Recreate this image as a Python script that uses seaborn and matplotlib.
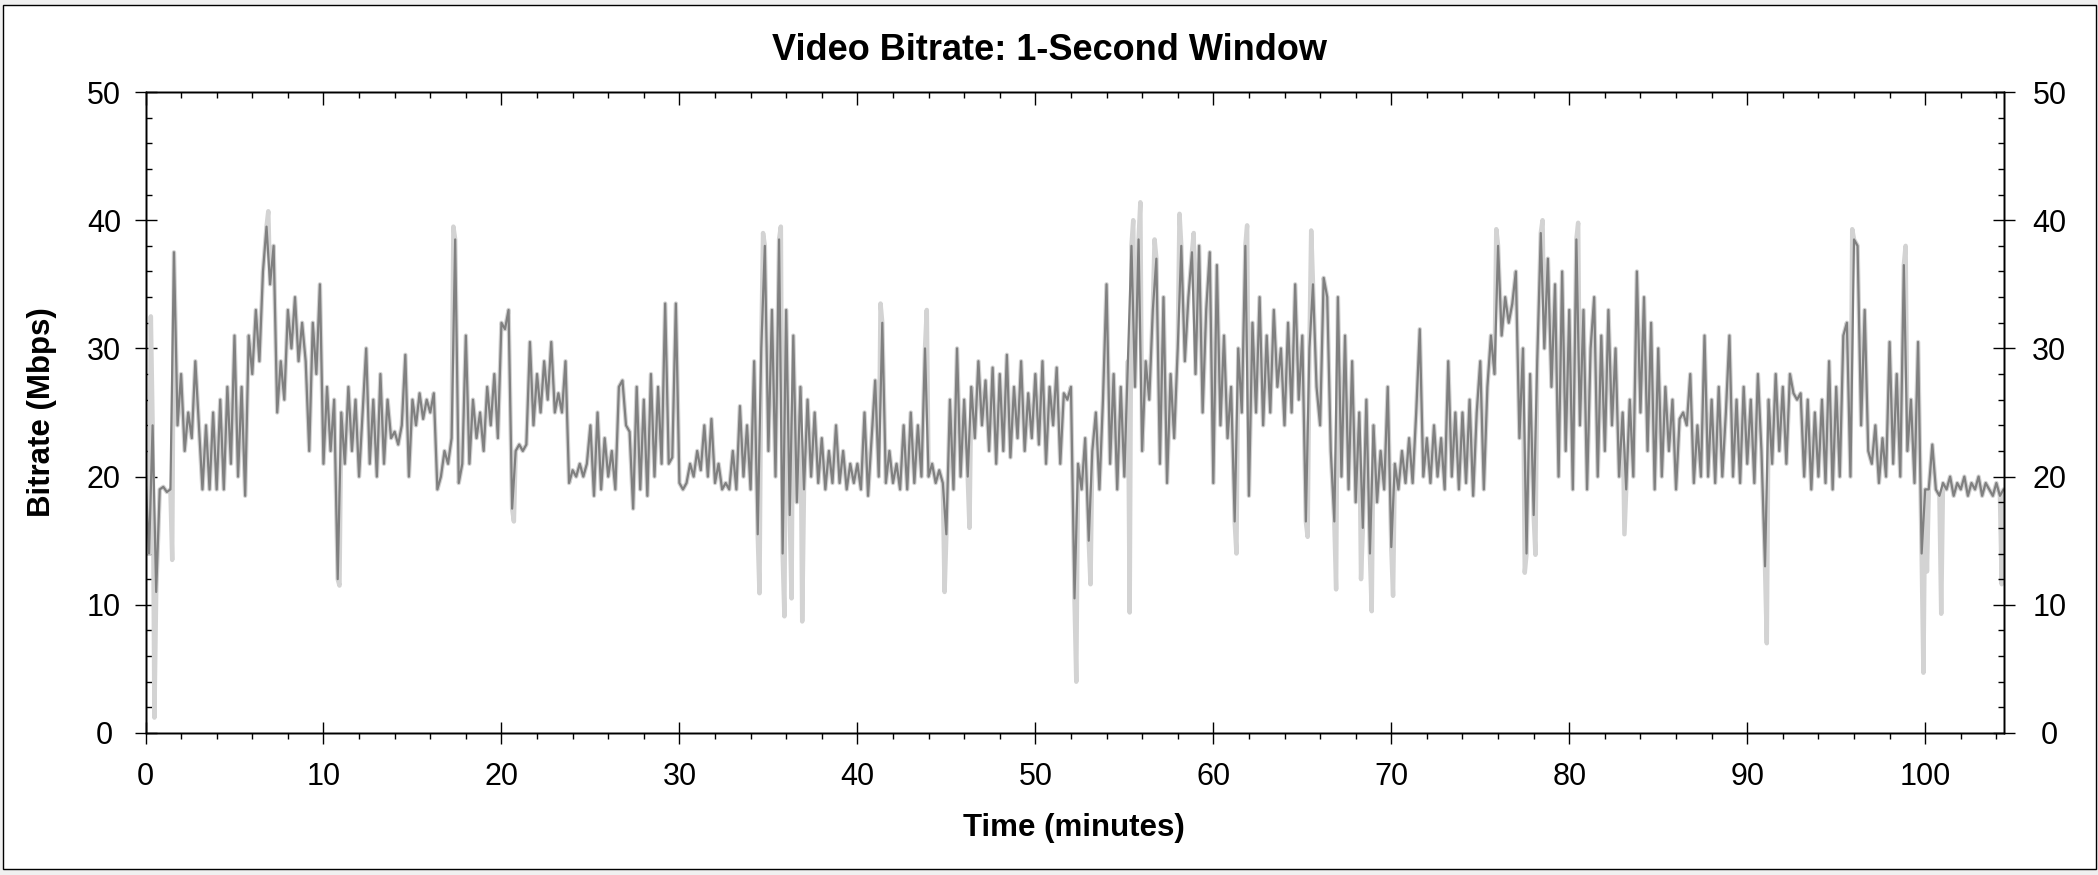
import numpy as np
import pandas as pd
import matplotlib
matplotlib.use("Agg")
import matplotlib.pyplot as plt
import matplotlib.patches as mpatches
from matplotlib.ticker import MultipleLocator
import seaborn as sns

sns.set_style("white")
plt.rcParams["font.family"] = ["Liberation Sans", "DejaVu Sans"]
plt.rcParams["text.color"] = "black"
plt.rcParams["xtick.color"] = "black"
plt.rcParams["ytick.color"] = "black"
plt.rcParams["axes.labelcolor"] = "black"

# bitrate, one value every 0.2 minutes (Mbps)
sample_step = 0.2
bitrate = [
    20, 14, 24, 11, 19, 19.2, 18.8, 19, 37.5, 24,             # 0-2
    28, 22, 25, 23, 29, 24, 19, 24, 19, 25,                   # 2-4
    19, 26, 19, 27, 21, 31, 20, 27, 18.5, 31,                 # 4-6
    28, 33, 29, 36, 39.5, 35, 38, 25, 29, 26,                 # 6-8
    33, 30, 34, 29, 32, 29, 22, 32, 28, 35,                   # 8-10
    21, 27, 22, 26, 12, 25, 21, 27, 22, 26,                   # 10-12
    20, 25, 30, 21, 26, 20, 28, 21, 26, 23,                   # 12-14
    23.5, 22.5, 24, 29.5, 20, 26, 24, 26.5, 24.5, 26,         # 14-16
    25, 26.5, 19, 20, 22, 21, 23, 38.5, 19.5, 21,             # 16-18
    31, 21, 26, 23, 25, 22, 27, 24, 28, 23,                   # 18-20
    32, 31.5, 33, 17.5, 22, 22.5, 22, 22.5, 30.5, 24,         # 20-22
    28, 25, 29, 26, 30.5, 25, 26.5, 25, 29, 19.5,             # 22-24
    20.5, 20, 21, 20, 21, 24, 18.5, 25, 19, 23,               # 24-26
    20, 22, 19, 27, 27.5, 24, 23.5, 17.5, 27, 19,             # 26-28
    26, 18.5, 28, 20, 27, 21, 33.5, 21, 21.5, 33.5,           # 28-30
    19.5, 19, 19.5, 21, 20, 22, 20.5, 24, 20, 24.5,           # 30-32
    19.5, 21, 19, 19.5, 19, 22, 19, 25.5, 20, 24,             # 32-34
    19, 29, 15.5, 30, 38, 22, 33, 20, 38.5, 14,               # 34-36
    33, 17, 31, 18, 27, 19, 26, 20, 25, 19.5,                 # 36-38
    23, 19, 22, 19.5, 24, 19.5, 22, 19, 21, 19.5,             # 38-40
    21, 19, 25, 18.5, 23, 27.5, 20, 32, 19.5, 22,             # 40-42
    19.5, 21, 19, 24, 19, 25, 19.5, 24, 20, 30,               # 42-44
    20, 21, 19.5, 20.5, 19.5, 15.5, 26, 19, 30, 20,           # 44-46
    26, 20, 27, 23, 29, 24, 27.5, 22, 28.5, 21,               # 46-48
    28, 22, 29.5, 21.5, 27, 23, 29, 22, 26.5, 23,             # 48-50
    28, 22.5, 29, 21, 27, 24, 28.5, 21, 26.5, 26,             # 50-52
    27, 10.5, 21, 19, 23, 15, 22, 25, 19, 26,                 # 52-54
    35, 21, 28, 19, 27, 20, 29, 38, 27, 38.5,                 # 54-56
    22, 29, 26, 33, 37, 21, 34, 19.5, 28, 23,                 # 56-58
    30, 38, 29, 34, 37.5, 28, 38, 25, 33, 37.5,               # 58-60
    19.5, 36.5, 24, 31, 23, 27, 16.5, 30, 25, 38,             # 60-62
    18.5, 32, 25, 34, 24, 31, 25, 33, 27, 30,                 # 62-64
    24, 32, 25, 35, 26, 31, 16.5, 30, 35, 27,                 # 64-66
    24, 35.5, 34, 22, 16.5, 34, 20, 31, 19, 29,               # 66-68
    18, 25, 16, 26, 14, 24, 18, 22, 19, 27,                   # 68-70
    14.5, 21, 19, 22, 19.5, 23, 19.5, 25, 31.5, 20,           # 70-72
    23, 19.5, 24, 20, 23, 19, 29, 20, 25, 19,                 # 72-74
    25, 19.5, 26, 18.5, 25, 29, 19, 27, 31, 28,               # 74-76
    38, 31, 34, 32, 33.5, 36, 23, 30, 14, 28,                 # 76-78
    17, 29, 39, 30, 37, 27, 35, 20, 36, 22,                   # 78-80
    33, 19, 38.5, 24, 33, 19, 30, 34, 20, 31,                 # 80-82
    22, 33, 24, 30, 20, 25, 19, 26, 20, 36,                   # 82-84
    25, 34, 22, 32, 19, 30, 20, 27, 22, 26,                   # 84-86
    19, 24.5, 25, 24, 28, 19.5, 24, 20, 31, 20,               # 86-88
    26, 19.5, 27, 20, 25, 31, 20, 26, 19.5, 27,               # 88-90
    21, 26, 19.5, 28, 22, 13, 26, 21, 28, 22,                 # 90-92
    27, 21, 28, 26.5, 26, 26.5, 20, 26, 19, 25,               # 92-94
    20, 26, 19.5, 29, 19, 27, 20, 31, 32, 20,                 # 94-96
    38.5, 38, 24, 33, 22, 21, 24, 19.5, 23, 20,               # 96-98
    30.5, 21, 28, 20, 36.5, 22, 26, 19.5, 30.5, 14,           # 98-100
    19, 19, 22.5, 19, 18.5, 19.5, 19, 20, 18.5, 19.5,         # 100-102
    19, 20, 18.5, 19.5, 19, 20, 18.5, 19.5, 19, 18.5,         # 102-104
    19.5, 18.5, 19,                                           # 104-104.4
]

# short excursions only visible in the light trace
spike_times = [0.3, 0.5, 1.5, 6.9, 10.9, 17.3, 20.7, 34.5, 34.7, 35.7,
               35.9, 36.3, 36.9, 41.3, 43.9, 44.9, 46.3, 52.3, 53.1, 55.3,
               55.5, 55.9, 56.7, 58.1, 58.9, 61.3, 61.9, 65.3, 65.5, 66.9,
               68.3, 68.9, 70.1, 75.9, 77.5, 78.1, 78.5, 80.5, 83.1, 91.1,
               95.9, 98.9, 99.9, 100.1, 100.9, 104.3]
spike_values = [32.5, 1.2, 13.5, 40.7, 11.5, 39.5, 16.5, 10.9, 39.0, 39.5,
                9.1, 10.5, 8.7, 33.5, 33.0, 11.0, 16.0, 4.0, 11.6, 9.4,
                40.0, 41.4, 38.5, 40.5, 39.0, 14.0, 39.6, 15.3, 39.2, 11.2,
                12.0, 9.5, 10.7, 39.3, 12.5, 13.9, 40.0, 39.8, 15.5, 7.0,
                39.3, 38.0, 4.7, 12.6, 9.3, 11.6]

x_ticks = [0, 10, 20, 30, 40, 50, 60, 70, 80, 90, 100]
y_ticks = [0, 10, 20, 30, 40, 50]

times = np.round(np.arange(len(bitrate)) * sample_step, 2)
dark = pd.DataFrame({"time": times, "rate": bitrate})
light = pd.concat([dark, pd.DataFrame({"time": spike_times, "rate": spike_values})])
light = light.sort_values("time").reset_index(drop=True)

W, H = 2098, 875
fig = plt.figure(figsize=(W / 100, H / 100), dpi=100, facecolor="#f0f0f0")
fig.add_artist(mpatches.Rectangle((3 / W, 1 - 869 / H), 2093 / W, 864 / H,
                                  transform=fig.transFigure, facecolor="white",
                                  edgecolor="black", lw=1.0, zorder=-1))

ax = fig.add_axes([145.5 / W, 1 - 733 / H, 1858 / W, 641 / H])
sns.lineplot(data=light, x="time", y="rate", color="#d3d3d3", lw=3.2,
             estimator=None, ax=ax)
sns.lineplot(data=dark, x="time", y="rate", color="#808080", lw=1.6,
             estimator=None, ax=ax)
ax.set_xlim(0, 104.4)
ax.set_ylim(0, 50)
ax.set_xlabel("")
ax.set_ylabel("")
ax.set_xticks(x_ticks)
ax.set_yticks(y_ticks)
ax.xaxis.set_minor_locator(MultipleLocator(2))
ax.yaxis.set_minor_locator(MultipleLocator(2))

tick_font = 22
ax.tick_params(axis="x", which="major", direction="inout", length=16, width=1,
               color="black", bottom=True, top=False, labelsize=tick_font, pad=13)
ax.tick_params(axis="x", which="minor", direction="out", length=4.5, width=1,
               color="black", bottom=True, top=False)
ax.tick_params(axis="y", which="major", direction="inout", length=16, width=1,
               color="black", left=True, right=False, labelsize=tick_font, pad=22)
ax.tick_params(axis="y", which="minor", direction="in", length=4.5, width=1,
               color="black", left=True, right=False)
plt.setp(ax.get_yticklabels(), ha="center")

# top ticks
axt = ax.twiny()
axt.set_xlim(ax.get_xlim())
axt.set_xticks(x_ticks)
axt.xaxis.set_minor_locator(MultipleLocator(2))
axt.tick_params(axis="x", which="major", direction="in", length=9, width=1,
                color="black", top=True, bottom=False, labeltop=False)
axt.tick_params(axis="x", which="minor", direction="in", length=4.5, width=1,
                color="black", top=True, bottom=False)

# right ticks and labels
axr = ax.twinx()
axr.set_ylim(ax.get_ylim())
axr.set_yticks(y_ticks)
axr.yaxis.set_minor_locator(MultipleLocator(2))
axr.tick_params(axis="y", which="major", direction="inout", length=16, width=1,
                color="black", right=True, left=False, labelsize=tick_font, pad=25)
axr.tick_params(axis="y", which="minor", direction="in", length=4.5, width=1,
                color="black", right=True, left=False)
plt.setp(axr.get_yticklabels(), ha="center")

for a in (ax, axt, axr):
    for s in a.spines.values():
        s.set_color("black")
        s.set_linewidth(1.0)

fig.text(0.5, 1 - 50 / H, "Video Bitrate: 1-Second Window", ha="center",
         va="center", fontsize=26, fontweight="bold")
fig.text(1074 / W, 1 - 828 / H, "Time (minutes)", ha="center", va="center",
         fontsize=22.5, fontweight="bold")
fig.text(42 / W, 1 - 412 / H, "Bitrate (Mbps)", ha="center", va="center",
         rotation=90, fontsize=22.5, fontweight="bold")

fig.savefig("out.png", dpi=100, facecolor=fig.get_facecolor())
